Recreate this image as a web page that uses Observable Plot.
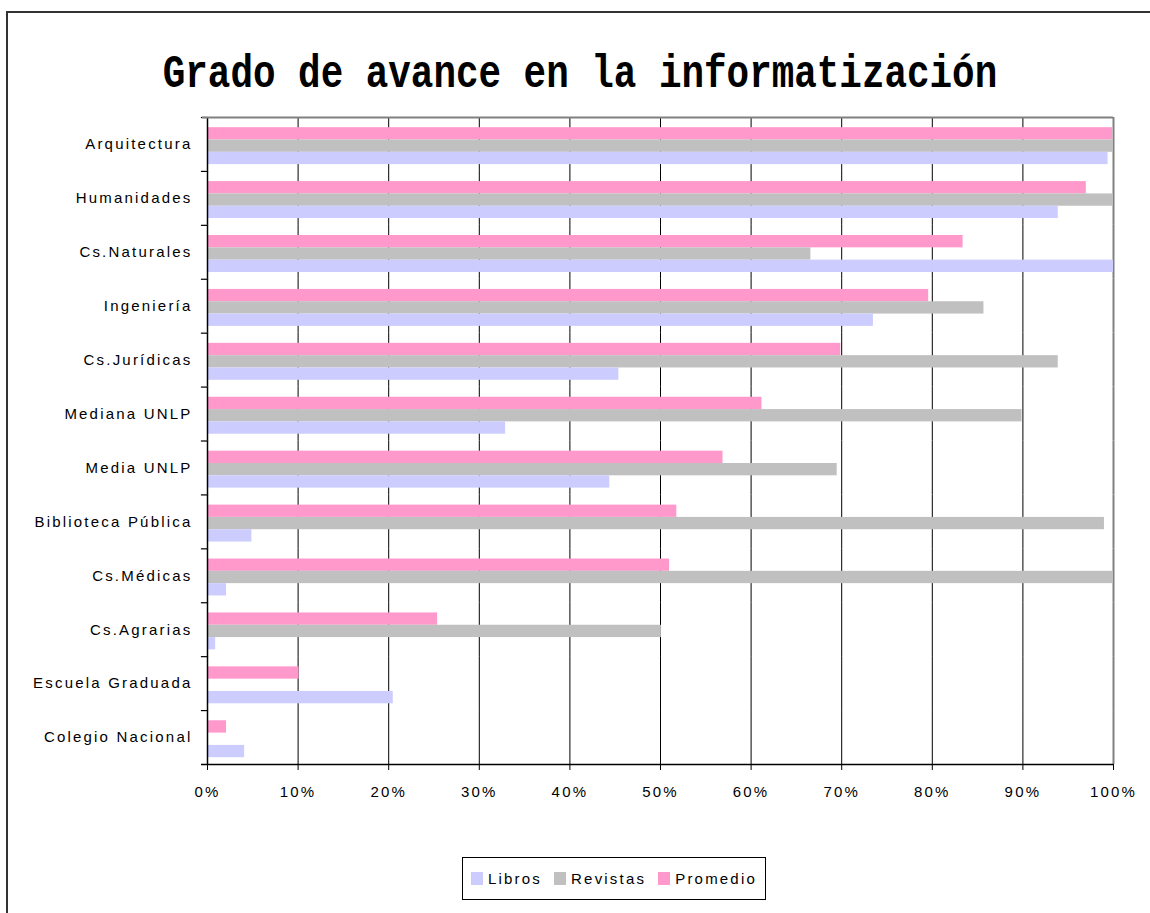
<!DOCTYPE html>
<html>
<head>
<meta charset="utf-8">
<script src="https://cdn.jsdelivr.net/npm/d3@7"></script>
<script src="https://cdn.jsdelivr.net/npm/@observablehq/plot@0.6"></script>
<style>
  html, body { margin: 0; padding: 0; background: #fff; }
  body { width: 1150px; height: 913px; overflow: hidden; position: relative; }
  #border { position: absolute; left: 6px; top: 11px; width: 1200px; height: 1000px; border: 2px solid #333; }
  #title { position: absolute; left: 0; top: 52px; width: 1160px; text-align: center;
           font-family: "Liberation Mono", "DejaVu Sans Mono", monospace; font-weight: bold;
           font-size: 46px; line-height: 46px; letter-spacing: 0px; color: #000; white-space: nowrap;
           transform: scaleX(0.817); transform-origin: 580px 50%; }
  #chart { position: absolute; left: 0; top: 105px; }
  #legend { position: absolute; left: 462px; top: 857px; width: 304px; height: 43px; box-sizing: border-box;
            border: 1px solid #000; display: flex; align-items: center; padding-left: 8px;
            font-family: "Liberation Sans Narrow", "Liberation Sans", Arial, sans-serif; font-size: 15px;
            letter-spacing: 2.2px; color: #000; background: #fff; }
  .item { display: flex; align-items: center; margin-right: 12px; }
  .sw { width: 12px; height: 13px; margin-right: 5px; }
</style>
</head>
<body>
<div id="border"></div>
<div id="title">Grado de avance en la informatización</div>
<div id="chart"></div>
<div id="legend"></div>
<script>
// ---- Data ----
const categories = ["Arquitectura", "Humanidades", "Cs.Naturales", "Ingeniería", "Cs.Jurídicas",
  "Mediana UNLP", "Media UNLP", "Biblioteca Pública", "Cs.Médicas", "Cs.Agrarias",
  "Escuela Graduada", "Colegio Nacional"];
const libros   = [99.4, 93.9, 100, 73.5, 45.4, 32.9, 44.4, 4.9, 2.1, 0.9, 20.5, 4.1];
const revistas = [100, 100, 66.6, 85.7, 93.9, 89.9, 69.5, 99.0, 100, 50.1, 0, 0];
const promedio = [99.9, 97.0, 83.4, 79.6, 69.9, 61.2, 56.9, 51.8, 51.0, 25.4, 10.1, 2.1];
const seriesNames = ["Libros", "Revistas", "Promedio"];
const seriesColors = ["#CCCCFF", "#C0C0C0", "#FF99CC"];
const barOrder = ["Promedio", "Revistas", "Libros"];   // top-to-bottom inside each group
const xTicks = [0, 10, 20, 30, 40, 50, 60, 70, 80, 90, 100];

const valuesBySeries = {Libros: libros, Revistas: revistas, Promedio: promedio};
const data = categories.flatMap((c, i) => barOrder.map(s => ({cat: c, series: s, value: valuesBySeries[s][i]})));

const W = 1150, H = 720, mt = 12, mb = 61, ml = 207, mr = 37;
const step = (H - mt - mb) / categories.length;
const plotW = W - ml - mr;

const chart = Plot.plot({
  width: W, height: H,
  marginTop: mt, marginBottom: mb, marginLeft: ml, marginRight: mr,
  style: {
    fontFamily: "'Liberation Sans Narrow', 'Liberation Sans', Arial, sans-serif",
    fontSize: "15px", letterSpacing: "2.2px", color: "#000", background: "transparent"
  },
  x: {domain: [0, 100]},
  y: {domain: barOrder, paddingInner: 0, paddingOuter: 0.689, align: 0.6, round: false, axis: null},
  fy: {domain: categories, paddingInner: 0, paddingOuter: 0, round: false},
  color: {domain: seriesNames, range: seriesColors},
  marks: [
    Plot.ruleX(xTicks.filter(t => t > 0 && t < 100), {stroke: "#000", strokeWidth: 1}),
    Plot.ruleX([100], {stroke: "#808080", strokeWidth: 2}),
    Plot.barX(data, {fy: "cat", y: "series", x: "value", fill: "series"}),
    Plot.ruleX([0], {stroke: "#000", strokeWidth: 1.5}),
    Plot.frame({anchor: "top", stroke: "#000", strokeWidth: 1.2, insetLeft: -6, insetRight: plotW}),
    Plot.ruleY([categories[0]], {fy: d => d, y: null, x1: 0, x2: 100, insetLeft: -5, dy: -step / 2, stroke: "#808080", strokeWidth: 2}),
    Plot.ruleY([categories[categories.length - 1]], {fy: d => d, y: null, x1: 0, x2: 100, insetLeft: -6, dy: step / 2, stroke: "#000", strokeWidth: 1.5}),
    Plot.axisX({anchor: "bottom", ticks: xTicks, tickFormat: d => d + "%", tickSize: 6, tickPadding: 16, label: null}),
    Plot.axisFy({anchor: "left", tickSize: 0, tickPadding: 15, label: null})
  ]
});
document.getElementById("chart").appendChild(chart);

// ---- Legend ----
const legend = document.getElementById("legend");
seriesNames.forEach((s, i) => {
  const item = document.createElement("div");
  item.className = "item";
  const sw = document.createElement("div");
  sw.className = "sw";
  sw.style.background = seriesColors[i];
  const lab = document.createElement("span");
  lab.textContent = s;
  item.appendChild(sw);
  item.appendChild(lab);
  legend.appendChild(item);
});
</script>
</body>
</html>
